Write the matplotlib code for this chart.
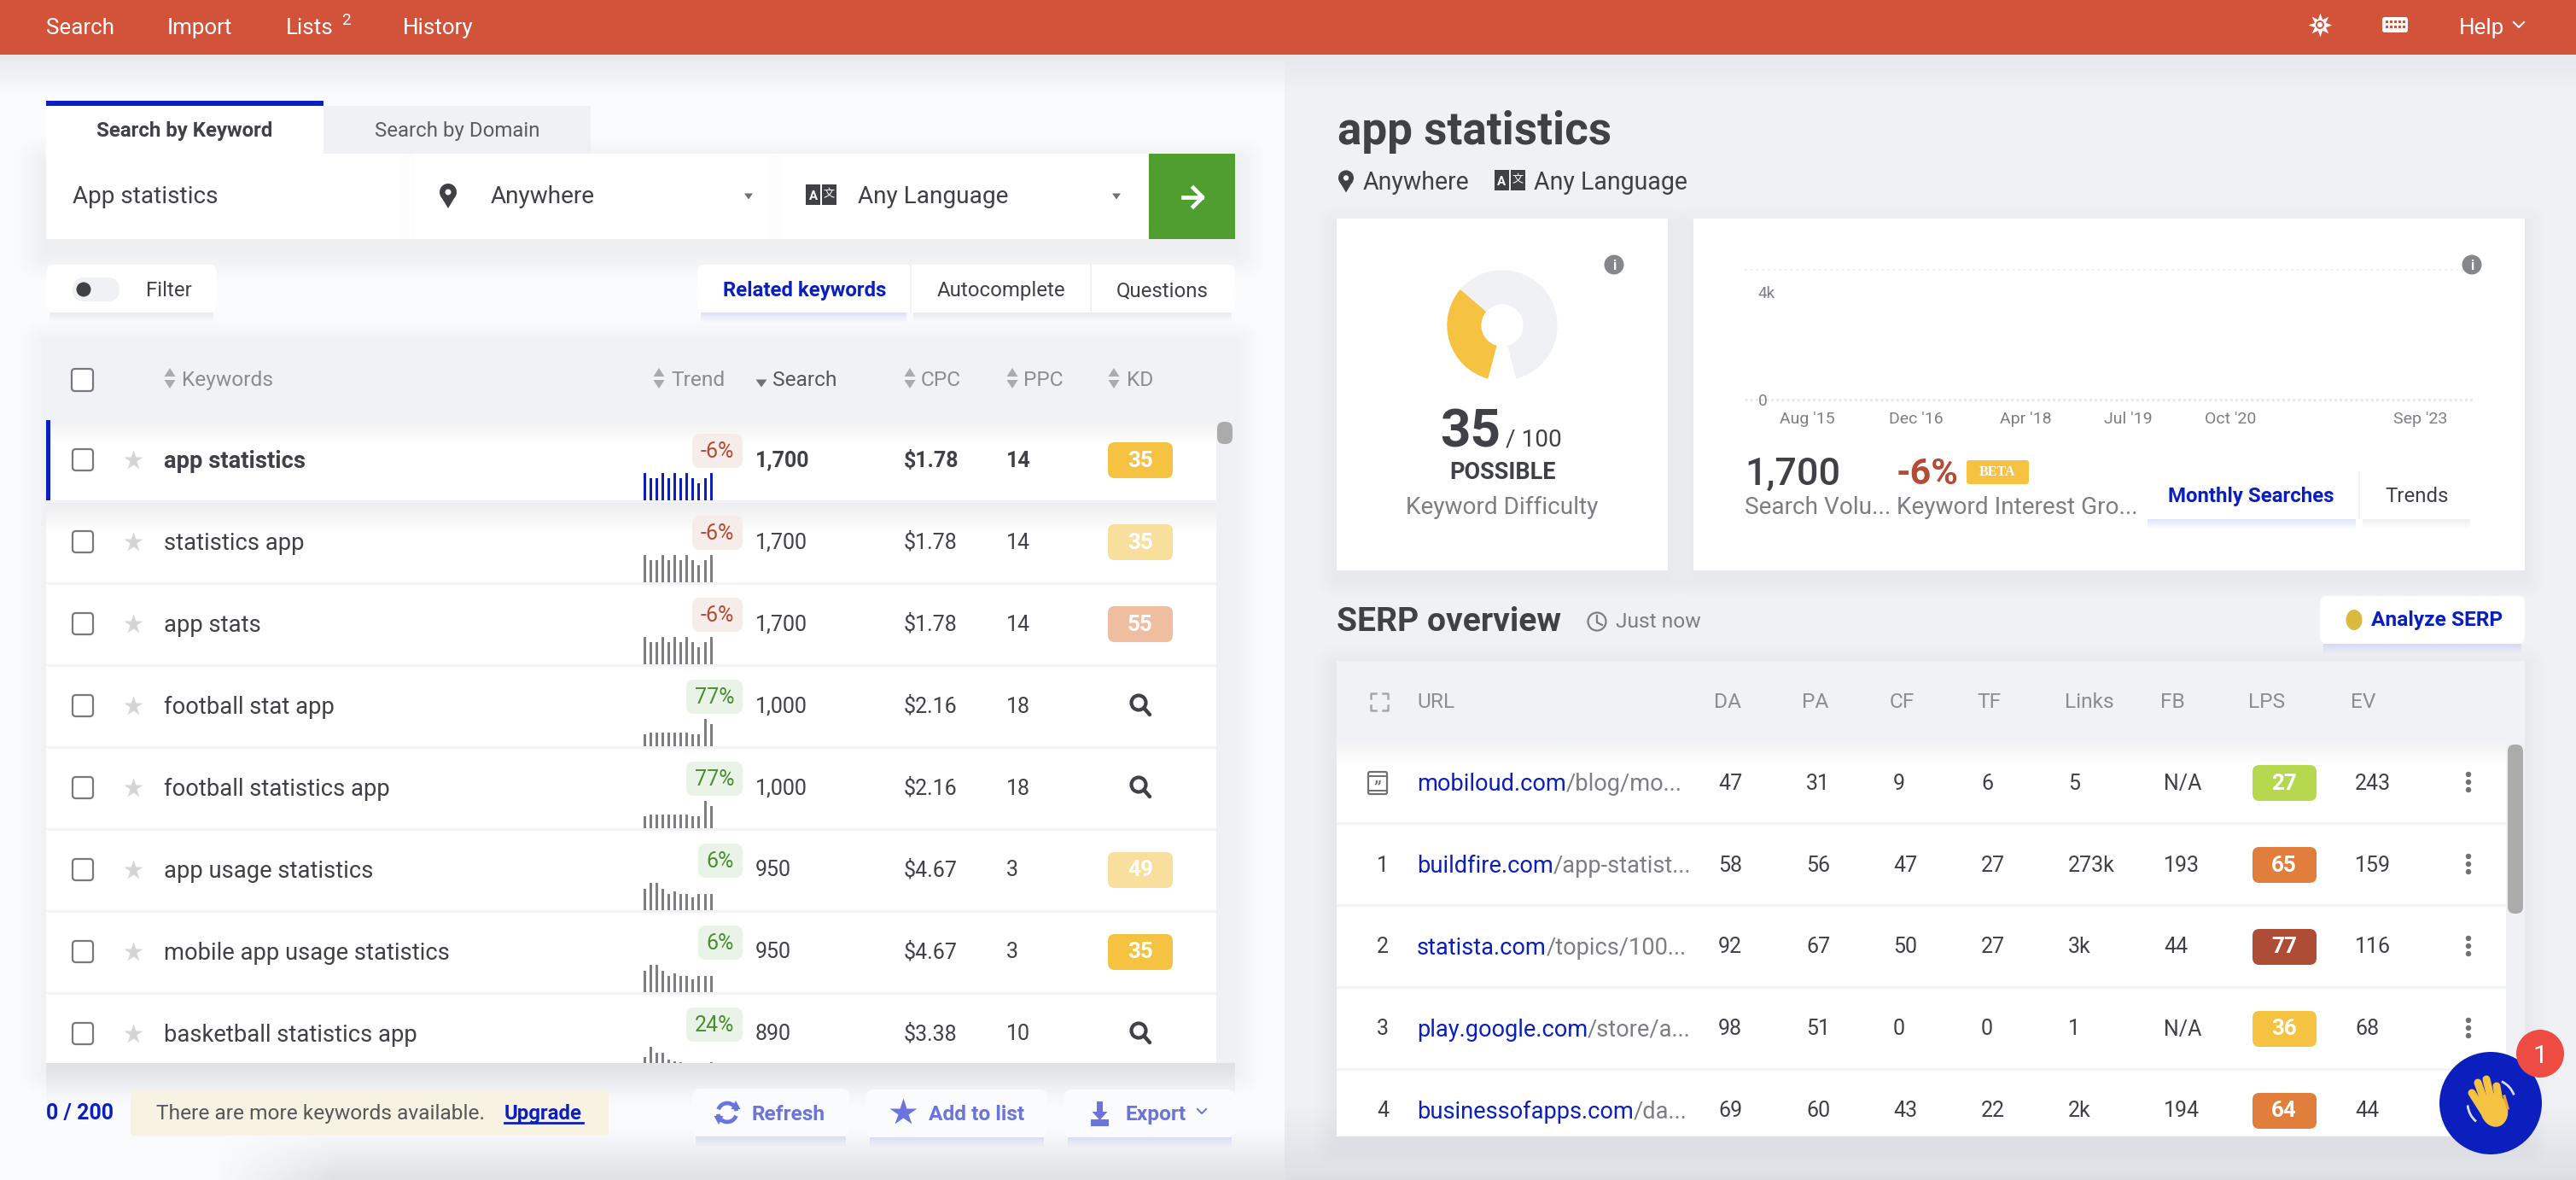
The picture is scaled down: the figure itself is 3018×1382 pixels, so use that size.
import numpy as np
import matplotlib
matplotlib.use("Agg")
import matplotlib.pyplot as plt
from matplotlib.patches import FancyBboxPatch, Rectangle, Polygon, Circle, Ellipse, Arc

# keyword table
keywords = ["app statistics", "statistics app", "app stats", "football stat app",
            "football statistics app", "app usage statistics",
            "mobile app usage statistics", "basketball statistics app"]
trend_pct = ["-6%", "-6%", "-6%", "77%", "77%", "6%", "6%", "24%"]
search_vol = ["1,700", "1,700", "1,700", "1,000", "1,000", "950", "950", "890"]
cpc = ["$1.78", "$1.78", "$1.78", "$2.16", "$2.16", "$4.67", "$4.67", "$3.38"]
ppc = ["14", "14", "14", "18", "18", "3", "3", "10"]
kd = ["35", "35", "55", None, None, "49", "35", None]

trend_a = [100, 81, 81, 100, 81, 100, 81, 100, 81, 62, 81, 100]
trend_b = [44, 51, 51, 51, 51, 51, 51, 51, 44, 44, 100, 81]
trend_c = [77, 100, 100, 77, 60, 70, 60, 60, 47, 60, 60, 60]
trend_d = [62, 100, 79, 79, 52, 47, 44, 42, 35, 35, 35, 44]
trend_vals = [trend_a, trend_a, trend_a, trend_b, trend_b, trend_c, trend_c, trend_d]

# difficulty gauge
kd_score = 35
kd_rest = 65
kd_gap = 9

# volume chart
chart_ticks = ["Aug '15", "Dec '16", "Apr '18", "Jul '19", "Oct '20", "Sep '23"]
chart_yticks = ["4k", "0"]

# serp table
serp_cols = ["URL", "DA", "PA", "CF", "TF", "Links", "FB", "LPS", "EV"]
serp_rank = ["", "1", "2", "3", "4"]
serp_domain = ["mobiloud.com", "buildfire.com", "statista.com", "play.google.com", "businessofapps.com"]
serp_path = ["/blog/mo...", "/app-statist...", "/topics/100...", "/store/a...", "/da..."]
serp_da = [47, 58, 92, 98, 69]
serp_pa = [31, 56, 67, 51, 60]
serp_cf = [9, 47, 50, 0, 43]
serp_tf = [6, 27, 27, 0, 22]
serp_links = ["5", "273k", "3k", "1", "2k"]
serp_fb = ["N/A", "193", "44", "N/A", "194"]
serp_lps = [27, 65, 77, 36, 64]
serp_ev = [243, 159, 116, 68, 44]

DARK = "#3F4146"
GREY = "#7C7E82"
HEAD = "#8B8D92"
BLUE = "#0B1FBF"
SOFT = "#6B74DC"
YEL = "#F5C242"
RED = "#B24C34"
GREEN = "#4A8F2E"

plt.rcParams["font.family"] = ["Roboto", "DejaVu Sans"]

W, H = 3018, 1382
fig = plt.figure(figsize=(W / 100, H / 100), dpi=100)
ax = fig.add_axes([0, 0, 1, 1])
ax.set_xlim(0, W)
ax.set_ylim(H, 0)
ax.axis("off")


def box(x0, y0, x1, y1, color, r=0, z=2, alpha=1):
    if r:
        p = FancyBboxPatch((x0 + r, y0 + r), x1 - x0 - 2 * r, y1 - y0 - 2 * r,
                           boxstyle="round,pad=%f,rounding_size=%f" % (r, r),
                           fc=color, ec="none", zorder=z, alpha=alpha)
    else:
        p = Rectangle((x0, y0), x1 - x0, y1 - y0, fc=color, ec="none", zorder=z, alpha=alpha)
    ax.add_patch(p)
    return p


def shadow(x0, y0, x1, y1, spread=24, alpha=0.006, dy=6, color="#30364a", z=1):
    for s in range(spread, 0, -3):
        box(x0 - s, y0 - s + dy, x1 + s, y1 + s + dy, color, r=s, z=z, alpha=alpha)


def fade(x0, y0, x1, y1, a0, a1, color=(0.2, 0.22, 0.3), z=1, soft_left=0):
    # vertical alpha ramp, soft_left also ramps in from the left over that share of the width
    arr = np.ones((40, 80, 4))
    arr[:, :, :3] = color
    ramp = np.linspace(a0, a1, 40)[:, None]
    if soft_left:
        ramp = ramp * np.clip(np.linspace(0, 1, 80) / soft_left, 0, 1)[None, :]
    else:
        ramp = ramp * np.ones((1, 80))
    arr[:, :, 3] = ramp
    ax.imshow(arr, extent=(x0, x1, y1, y0), aspect="auto", zorder=z, interpolation="bilinear")
    ax.set_xlim(0, W)
    ax.set_ylim(H, 0)


def under(x0, x1, y, z=2):
    # bluish glow below an active tab or button
    fade(x0 + 4, y, x1 - 4, y + 12, 0.26, 0.0, color=(0.55, 0.6, 0.92), z=z)


def grey_under(x0, x1, y, z=2):
    fade(x0 + 4, y, x1 - 4, y + 12, 0.08, 0.0, z=z)


def txt(x, y, s, px=27, color=DARK, ha="left", weight="normal", z=6, **kw):
    return ax.text(x, y - 2, s, fontsize=px * 0.72, color=color, ha=ha, va="center_baseline",
                   fontweight=weight, zorder=z, **kw)


def tri(x, y, w, h, up, color, z=6):
    tip = y - h / 2 if up else y + h / 2
    base = y + h / 2 if up else y - h / 2
    ax.add_patch(Polygon([(x - w / 2, base), (x + w / 2, base), (x, tip)], fc=color, ec="none", zorder=z))


def sort_arrows(x, y):
    tri(x, y - 7, 13, 10, True, "#A9ABAF")
    tri(x, y + 7, 13, 10, False, "#A9ABAF")


def search_icon(x, y):
    ax.add_patch(Circle((x - 2, y - 3), 8.5, fc="none", ec=DARK, lw=3, zorder=6))
    ax.plot([x + 4, x + 11], [y + 3, y + 11], color=DARK, lw=3.2, zorder=6, solid_capstyle="round")


def pin(x, y, s=1.0):
    ax.add_patch(Circle((x, y - 4 * s), 10 * s, fc=DARK, ec="none", zorder=6))
    ax.add_patch(Polygon([(x - 9 * s, y), (x + 9 * s, y), (x, y + 15 * s)], fc=DARK, ec="none", zorder=6))
    ax.add_patch(Circle((x, y - 4 * s), 3.5 * s, fc="white", ec="none", zorder=7))


def lang_icon(x, y):
    box(x - 18, y - 12, x - 1, y + 12, DARK, z=6)
    box(x + 1, y - 12, x + 18, y + 12, DARK, z=6)
    txt(x - 9.5, y + 2, "A", 15, "white", "center", "bold", z=7)
    ax.text(x + 9.5, y, "文", fontsize=9.5, color="white", ha="center", va="center", zorder=7,
            family=["Noto Sans CJK SC", "DejaVu Sans"])


def info(x, y):
    ax.add_patch(Circle((x, y), 11.5, fc="#85878B", ec="none", zorder=6))
    txt(x, y + 2, "i", 16, "white", "center", "bold", z=7)


def dots(x, y):
    for d in (-9, 0, 9):
        ax.add_patch(Circle((x, y + d), 3.2, fc="#6F7175", ec="none", zorder=6))


# page background
box(0, 0, 1505, H, "#FAFBFD", z=0)
box(1505, 0, W, H, "#EFF1F5", z=0)
fade(0, 64, 1505, 110, 0.10, 0.0)
fade(1505, 64, W, 110, 0.05, 0.0)
fade(240, 1320, 1505, H, 0.0, 0.14, soft_left=0.12)
fade(1505, 1290, W, H, 0.0, 0.10)
fade(54, 1245, 1447, 1300, 0.08, 0.0)

# top bar
box(0, 0, W, 64, "#D2523A", z=3)
for x, s in zip((54, 196, 335, 472), ("Search", "Import", "Lists", "History")):
    txt(x, 32, s, 26, "white")
txt(400, 24, "2", 19, "white")
ax.plot([2718], [29], marker=(8, 1, 0), ms=20, color="white", mec="none", zorder=6)
ax.add_patch(Circle((2718, 29), 4, fc="white", ec="#D2523A", lw=1.4, zorder=7))
box(2791, 20, 2821, 38, "white", r=3, z=6)
for k in range(5):
    box(2795 + k * 5, 24, 2798 + k * 5, 27, "#D2523A", z=7)
    box(2795 + k * 5, 30, 2798 + k * 5, 33, "#D2523A", z=7)
txt(2881, 32, "Help", 26, "white")
ax.plot([2945, 2951, 2957], [26, 32, 26], color="white", lw=1.5, zorder=6)

# search tabs and inputs
shadow(54, 180, 1447, 280, spread=36, alpha=0.004, dy=14)
box(54, 118, 379, 124, BLUE, z=4)
box(54, 124, 379, 180, "white", z=3)
box(379, 124, 692, 180, "#F0F1F5", z=3)
txt(216, 153, "Search by Keyword", 24, DARK, "center", "bold")
txt(536, 153, "Search by Domain", 24, "#5A5C60", "center")
box(54, 180, 1447, 280, "#FDFDFE", z=2)
box(54, 180, 470, 280, "white", z=3)
box(485, 180, 900, 280, "white", z=3)
box(914, 180, 1347, 280, "white", z=3)
box(1346, 180, 1447, 280, "#4F9E2F", z=4)
txt(85, 229, "App statistics", 28, DARK)
pin(525, 229)
txt(575, 229, "Anywhere", 28, DARK)
tri(877, 230, 10, 7, False, "#6F7175")
lang_icon(962, 228)
txt(1005, 229, "Any Language", 28, DARK)
tri(1308, 230, 10, 7, False, "#6F7175")
ax.plot([1386, 1408], [231, 231], color="white", lw=3.4, zorder=6)
ax.plot([1398, 1409, 1398], [220, 231, 242], color="white", lw=3.4, zorder=6)

# filter and source tabs
grey_under(54, 254, 366)
box(54, 310, 254, 366, "white", r=9, z=3)
box(85, 325, 140, 353, "#F0F1F5", r=14, z=4)
ax.add_patch(Ellipse((98, 339), 17, 17, fc=DARK, ec="none", zorder=5))
txt(171, 340, "Filter", 24, DARK)
grey_under(1066, 1447, 366)
under(817, 1066, 366)
box(817, 310, 1447, 366, "white", r=9, z=3)
box(1066, 310, 1068, 366, "#F1F2F5", z=4)
box(1277, 310, 1279, 366, "#F1F2F5", z=4)
txt(943, 340, "Related keywords", 24, BLUE, "center", "bold")
txt(1173, 340, "Autocomplete", 24, DARK, "center")
txt(1362, 340, "Questions", 24, DARK, "center")

# keyword table
shadow(54, 396, 1447, 1245, spread=30, alpha=0.003, dy=8)
box(54, 396, 1447, 492, "#F1F2F6", z=3)
box(84, 432, 109, 458, "white", r=4, z=4)
ax.add_patch(FancyBboxPatch((88, 436), 17, 18, boxstyle="round,pad=4,rounding_size=4",
                            fc="white", ec="#77797D", lw=1.6, zorder=5))
col_y = 443
for x, tx, s in ((199, 213, "Keywords"), (772, 786, "Trend"), (1066, 1079, "CPC"),
                 (1186, 1199, "PPC"), (1305, 1320, "KD")):
    sort_arrows(x, col_y)
    txt(tx, col_y + 2, s, 24.5, HEAD)
tri(892, col_y + 6, 13, 9, False, "#6F7175")
txt(905, col_y + 2, "Search", 24.5, "#55575B")

box(54, 492, 1425, 1245, "white", z=2)
box(1425, 492, 1447, 1245, "#F0F1F5", z=2)
box(1426, 494, 1444, 520, "#ABABAB", r=8, z=4)
fade(54, 492, 1425, 520, 0.07, 0.0, z=3)
fade(54, 588, 1425, 625, 0.09, 0.0, z=3)
clip = Rectangle((0, 0), W, 1245, transform=ax.transData)
bar_xs = 755.5 + 7.05 * np.arange(12)

for i, name in enumerate(keywords):
    top = 491 + 96 * i
    cy = top + 48
    bottom = top + 95
    if i < 7:
        box(54, bottom, 1425, bottom + 3, "#F2F3F6", z=4)
    bold = "bold" if i == 0 else "normal"
    box(85, cy - 12, 109, cy + 13, "white", z=3)
    ax.add_patch(FancyBboxPatch((89, cy - 9), 16, 17, boxstyle="round,pad=4,rounding_size=4",
                                fc="white", ec="#77797D", lw=1.6, zorder=5))
    ax.plot([156], [cy], marker="*", ms=17, color="#D4D5D7", mec="none", zorder=5)
    txt(192, cy, name, 27.4, DARK, weight=bold)
    # trend pill
    up = not trend_pct[i].startswith("-")
    wide = {2: 52, 3: 66}.get(len(trend_pct[i]), 59)
    if trend_pct[i].startswith("-"):
        wide = 59
    pill = "#EAF3E7" if up else "#F6ECEA"
    box(870 - wide, top + 17, 870, top + 57, pill, r=9, z=4)
    txt(870 - wide / 2, top + 37, trend_pct[i], 25, GREEN if up else RED, "center")
    # small trend bars
    hs = np.array(trend_vals[i]) * 0.32
    bars = ax.bar(bar_xs, -hs, bottom=bottom, width=3.0, color=BLUE if i == 0 else "#7E7E80", zorder=5)
    for b in bars:
        b.set_clip_path(clip)
    txt(885, cy, search_vol[i], 25, DARK, weight=bold)
    txt(1059, cy, cpc[i], 25, DARK, weight=bold)
    txt(1179, cy, ppc[i], 25, DARK, weight=bold)
    if kd[i] is None:
        search_icon(1336, cy - 1)
    else:
        fill = {"35": YEL, "55": "#EFBDA0", "49": "#F9DF9E"}[kd[i]]
        if i == 1:
            fill = "#F9DF9C"
        box(1298, cy - 21, 1374, cy + 21, fill, r=8, z=4)
        txt(1336, cy, kd[i], 26, "white", "center", "bold")
box(54, 492, 59, 586, BLUE, z=5)

# footer of the left panel
txt(54, 1304, "0 / 200", 25, BLUE, weight="bold")
box(153, 1277, 713, 1330, "#F7F2E2", r=3, z=3)
txt(183, 1304, "There are more keywords available.", 24.5, "#55575B")
txt(591, 1304, "Upgrade", 24, BLUE, weight="bold")
ax.plot([591, 683], [1315, 1315], color=BLUE, lw=2, zorder=6)
for x0, y0, x1, y1, tx, s in ((811, 1275, 995, 1331, 880, "Refresh"),
                              (1015, 1276, 1227, 1332, 1088, "Add to list"),
                              (1247, 1276, 1447, 1332, 1318, "Export")):
    under(x0, x1, y1)
    box(x0, y0, x1, y1, "#FAFBFC", r=9, z=3)
    txt(tx, 1305, s, 24.5, SOFT, weight="bold")
ax.add_patch(Arc((852, 1303), 22, 22, theta1=200, theta2=350, ec=SOFT, lw=3.4, zorder=6))
ax.add_patch(Arc((852, 1303), 22, 22, theta1=20, theta2=170, ec=SOFT, lw=3.4, zorder=6))
tri(862, 1294, 11, 10, True, SOFT)
tri(842, 1312, 11, 10, False, SOFT)
ax.plot([1058], [1303], marker="*", ms=24, color=SOFT, mec="none", zorder=6)
box(1285, 1290, 1292, 1304, SOFT, z=6)
tri(1288.5, 1307, 18, 10, False, SOFT)
box(1278, 1311, 1299, 1319, SOFT, z=6)
ax.plot([1403, 1408, 1413], [1299, 1304, 1299], color=SOFT, lw=1.5, zorder=6)

# right panel heading
txt(1567, 151, "app statistics", 53, DARK, weight="bold")
pin(1577, 212, 0.9)
txt(1597, 213, "Anywhere", 28.5, DARK)
lang_icon(1769, 211)
txt(1797, 213, "Any Language", 28.5, DARK)

# difficulty card
shadow(1566, 256, 1954, 668, spread=24, alpha=0.005, dy=8)
box(1566, 256, 1954, 668, "white", z=2)
info(1891, 310)
pie_ax = fig.add_axes([(1760 - 66) / W, 1 - (381 + 66) / H, 132 / W, 132 / H])
pie_ax.pie([kd_score, kd_rest, kd_gap], startangle=-105, counterclock=False,
           colors=[YEL, "#EFF1F5", "none"], radius=1.0, wedgeprops=dict(width=0.62, linewidth=0))
pie_ax.set_xlim(-1.02, 1.02)
pie_ax.set_ylim(-1.02, 1.02)
txt(1723, 502, str(kd_score), 62, DARK, "center", "bold")
txt(1764, 514, "/ 100", 28, DARK)
txt(1760, 552, "POSSIBLE", 27, DARK, "center", "bold")
txt(1760, 593, "Keyword Difficulty", 28, GREY, "center")

# volume card
shadow(1984, 256, 2958, 668, spread=24, alpha=0.005, dy=8)
box(1984, 256, 2958, 668, "white", z=2)
info(2896, 310)
ax.plot([2044, 2898], [316, 316], color="#EDEEF2", lw=1.2, ls=(0, (2, 2)), zorder=3)
ax.plot([2044, 2898], [468, 468], color="#E6E8EE", lw=2.2, ls=(0, (1, 1)), zorder=3)
for y, s in zip((342, 468), chart_yticks):
    txt(2060, y + 2, s, 19, GREY)
for x, s in zip((2117, 2245, 2373, 2493, 2613, 2836), chart_ticks):
    txt(x, 491, s, 19.5, GREY, "center")
txt(2044, 553, "1,700", 45, DARK, weight="medium")
txt(2222, 553, "-6%", 43, RED, weight="bold")
box(2304, 539, 2377, 567, YEL, r=3, z=4)
ax.text(2340, 553, "BETA", fontsize=11.5, color="white", ha="center", va="center", zorder=6,
        family="Liberation Serif", fontweight="bold")
txt(2044, 593, "Search Volu...", 28, GREY)
txt(2222, 593, "Keyword Interest Gro...", 28, GREY)
grey_under(2764, 2898, 608)
under(2512, 2764, 608)
box(2512, 552, 2898, 608, "white", r=7, z=3)
box(2763, 552, 2765, 608, "#F1F2F5", z=4)
txt(2637, 581, "Monthly Searches", 24, BLUE, "center", "bold")
txt(2832, 581, "Trends", 24, DARK, "center")

# serp section
txt(1566, 726, "SERP overview", 39, DARK, weight="bold")
ax.add_patch(Circle((1871, 728), 10.5, fc="none", ec=GREY, lw=1.6, zorder=6))
ax.plot([1871, 1871, 1877], [721, 729, 732], color=GREY, lw=1.6, zorder=6)
txt(1893, 728, "Just now", 24.5, GREY)
under(2718, 2958, 754)
box(2718, 698, 2958, 754, "white", r=8, z=3)
ax.add_patch(Ellipse((2758, 726), 19, 24, fc="#D9B93F", ec="none", zorder=6))
txt(2778, 726, "Analyze SERP", 24.5, BLUE, weight="bold")

shadow(1566, 774, 2958, 1331, spread=26, alpha=0.004, dy=8)
box(1566, 774, 2958, 870, "#F1F2F6", z=3)
hdr_x = [1660, 2008, 2111, 2214, 2316, 2419, 2531, 2634, 2754]
for x, s in zip(hdr_x, serp_cols):
    txt(x, 822, s, 24.5, HEAD)
for sx, sy in ((-1, -1), (1, -1), (-1, 1), (1, 1)):
    cx, cy = 1616 + sx * 10, 822 + sy * 10
    ax.plot([cx, cx, cx - sx * 6], [cy - sy * 6, cy, cy], color="#A5A7AB", lw=1.8, zorder=6)

box(1566, 870, 2936, 1331, "white", z=2)
box(2936, 870, 2958, 1331, "#F0F1F5", z=2)
box(2938, 872, 2956, 1070, "#ABABAB", r=8, z=4)
fade(1566, 870, 2936, 900, 0.06, 0.0, z=3)
rend = fig.canvas.get_renderer()
lps_fill = {27: "#B5D84F", 65: "#E17E3C", 77: "#AE4D35", 36: YEL, 64: "#E17E3C"}
for i in range(5):
    cy = 917 + 96 * i
    if i < 4:
        box(1566, cy + 46, 2936, cy + 49, "#F2F3F6", z=4)
    if serp_rank[i]:
        txt(1620, cy, serp_rank[i], 25, DARK, "center")
    else:
        ax.add_patch(FancyBboxPatch((1604, cy - 12), 20, 24, boxstyle="round,pad=1,rounding_size=2",
                                    fc="white", ec="#6F7175", lw=1.6, zorder=5))
        box(1604, cy - 9, 1624, cy - 7, "#6F7175", z=6)
        box(1604, cy + 8, 1624, cy + 10, "#6F7175", z=6)
        txt(1614, cy + 7, "”", 24, "#6F7175", "center")
    t = txt(1660, cy, serp_domain[i], 27.3, BLUE)
    end = t.get_window_extent(rend).x1
    txt(end, cy, serp_path[i], 27.3, GREY)
    for x, v in zip((2013, 2116, 2218, 2321, 2423, 2535, 2759),
                    (serp_da[i], serp_pa[i], serp_cf[i], serp_tf[i],
                     serp_links[i], serp_fb[i], serp_ev[i])):
        txt(x, cy, str(v), 25, DARK)
    box(2639, cy - 21, 2714, cy + 21, lps_fill[serp_lps[i]], r=8, z=4)
    txt(2676, cy, str(serp_lps[i]), 26, "white", "center", "bold")
    if i < 4:
        dots(2892, cy - 1)

# chat bubble
ax.add_patch(Circle((2918, 1292), 60, fc=BLUE, ec="none", zorder=8))
ax.add_patch(Ellipse((2922, 1300), 32, 40, angle=-15, fc=YEL, ec="none", zorder=9))
for x_top, y_top, x_base in ((2896, 1280, 2910), (2903, 1268, 2915), (2913, 1264, 2922), (2925, 1272, 2930)):
    ax.plot([x_top, x_base], [y_top, 1302], color=YEL, lw=6.5, solid_capstyle="round", zorder=9)
ax.plot([2934, 2938], [1284, 1298], color="#E8A33A", lw=2.4, zorder=10)
ax.add_patch(Arc((2919, 1292), 56, 56, theta1=-65, theta2=-20, ec="#D8DCF5", lw=2, zorder=9))
ax.add_patch(Arc((2919, 1292), 56, 56, theta1=130, theta2=175, ec="#D8DCF5", lw=2, zorder=9))
ax.add_patch(Circle((2976, 1234), 28, fc="#EE4C43", ec="none", zorder=10))
txt(2976, 1236, "1", 30, "white", "center", z=11)

fig.savefig("out.png", dpi=100)
